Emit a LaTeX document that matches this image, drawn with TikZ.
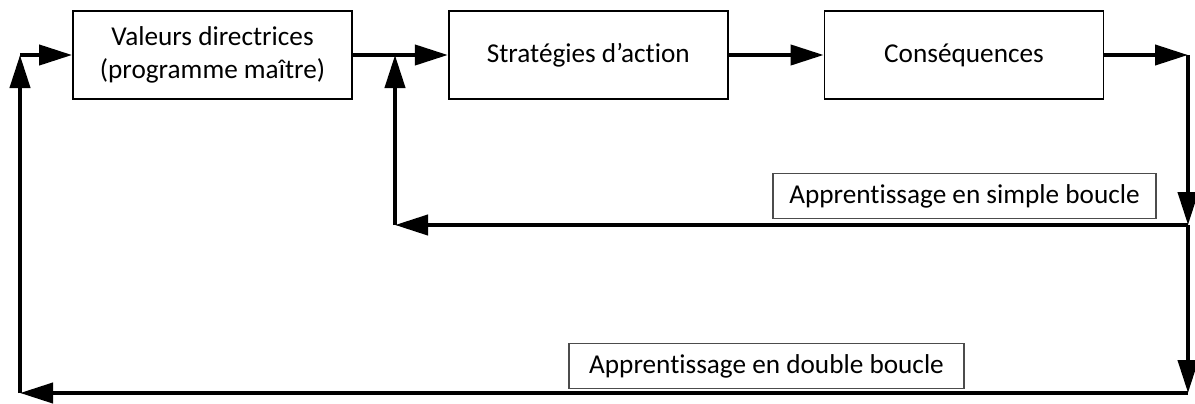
\documentclass[tikz,border=0pt]{standalone}
\usepackage{fontspec}
\setmainfont{Carlito}[Ligatures=NoCommon]
\usetikzlibrary{arrows.meta,positioning}

\begin{document}
\begin{tikzpicture}[
		x=0.2mm, y=-0.2mm,
		node distance=1.9cm,
		font=\fontsize{15.5}{19}\selectfont,
		arrow/.style={line width=2.3pt, -{Triangle[length=6.6mm,width=4mm]}},
		block/.style={draw, line width=1pt, minimum height=1.76cm, minimum width=5.58cm, align=center},
		tag/.style={draw=black!70, line width=0.6pt, inner sep=0pt, minimum height=0.9cm},
	]
		\useasboundingbox (0,0) rectangle (1195,403);
		\node (vd) [block] at (212.5,55) {Valeurs directrices\\(programme maître)};
		\node (sa) [block, right=of vd] {Stratégies d’action};
		\node (cs) [block, right=of sa] {Conséquences};
		
		\coordinate (ne) at (1188,55);
		\coordinate (se) at (1188,225);
		\coordinate (sse) at (1188,393);
		\coordinate (sj) at (395,225);
		\coordinate (nj) at (395,55);
		\coordinate (sw) at (20,393);
		\coordinate (nw) at (20,55);
		
		\node (simple) [tag, minimum width=7.66cm] at (964.5,196) {Apprentissage en simple boucle};
		\node (double) [tag, minimum width=7.9cm] at (766.5,366) {Apprentissage en double boucle};
		
		\draw[arrow] (vd) -- (sa);
		\draw[arrow] (sa) -- (cs);
		\draw[arrow] (cs) -- (ne);
		\draw[arrow] (ne) -- (se);
		\draw[arrow] (se) -- (sse);
		\draw[arrow] (se) -- (sj);
		\draw[arrow] (sj) -- (nj);
		\draw[arrow] (sse) -- (sw);
		\draw[arrow] (sw) -- (nw);
		\draw[arrow] (nw) -- (vd);
	\end{tikzpicture}
\end{document}
